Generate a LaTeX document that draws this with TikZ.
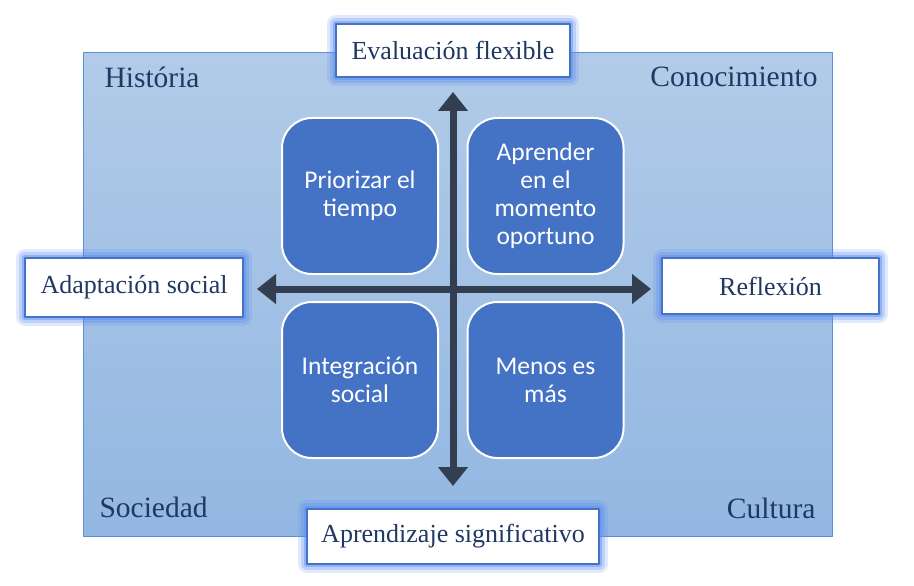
\documentclass[tikz,border=0pt]{standalone}
\usepackage{fontspec}
\setmainfont{Liberation Serif}
\newfontfamily\tiempos{Liberation Serif}
\newfontfamily\carlito{Carlito}
\usetikzlibrary{arrows.meta}
\definecolor{fondoA}{RGB}{178,203,232}
\definecolor{fondoB}{RGB}{146,183,226}
\definecolor{borde}{RGB}{91,143,214}
\definecolor{azul}{RGB}{68,114,196}
\definecolor{brillo}{RGB}{90,140,240}
\definecolor{ejecolor}{RGB}{51,63,80}
\definecolor{texto}{RGB}{31,56,100}
\tikzset{
	caja/.style={draw=azul, line width=2pt, fill=white, inner sep=0pt, text=texto,
		font=\tiempos\fontsize{26}{30}\selectfont,
		preaction={draw=brillo, line width=18pt, opacity=0.18},
		preaction={draw=brillo, line width=12pt, opacity=0.28},
		preaction={draw=brillo, line width=6pt, opacity=0.45}},
	cuadro/.style={draw=white, line width=2pt, fill=azul, rounded corners=30pt,
		minimum size=156pt, align=center, text=white, font=\carlito\fontsize{25.5}{28}\selectfont},
	esquina/.style={text=texto, font=\tiempos\fontsize{29.5}{32}\selectfont},
	flecha/.style={draw=ejecolor, line width=7pt,
		{Triangle[width=29pt,length=19pt]}-{Triangle[width=29pt,length=19pt]}}
}
\begin{document}
\begin{tikzpicture}[x=1pt,y=-1pt, line join=round]
		\useasboundingbox (0,0) rectangle (914,586);
		% fondo
		\draw[borde, line width=1pt, top color=fondoA, bottom color=fondoB] (83,53) rectangle (832,536);
		\node[esquina, anchor=west] (hist) at (101,77) {História};
		\node[esquina, anchor=east] (cono) at (821,77) {Conocimiento};
		\node[esquina, anchor=west] (soci) at (96,507) {Sociedad};
		\node[esquina, anchor=east] (cult) at (819,508) {Cultura};
		% ejes
		\coordinate (arr) at (453,92);
		\coordinate (aba) at (453,486);
		\coordinate (izq) at (257,289);
		\coordinate (der) at (651,289);
		\draw[flecha] (aba)--(arr);
		\draw[flecha] (izq)--(der);
		% cuadros
		\node[cuadro] (prio) at (360,196) {Priorizar el\\tiempo};
		\node[cuadro] (apre) at (545.5,196) {Aprender\\en el\\momento\\oportuno};
		\node[cuadro] (inte) at (360,380) {Integración\\social};
		\node[cuadro] (meno) at (545.5,380) {Menos es\\más};
		% cajas
		\node[caja, minimum width=234pt, minimum height=53pt] (eval) at (453,50.5) {Evaluación flexible};
		\node[caja, minimum width=218pt, minimum height=59pt] (adap) at (134,287.5) {Adaptación social};
		\node[caja, minimum width=217pt, minimum height=56pt] (refl) at (770.5,286) {Reflexión};
		\node[caja, minimum width=292pt, minimum height=55pt] (sign) at (453,536.5) {Aprendizaje significativo};
\end{tikzpicture}
\end{document}
